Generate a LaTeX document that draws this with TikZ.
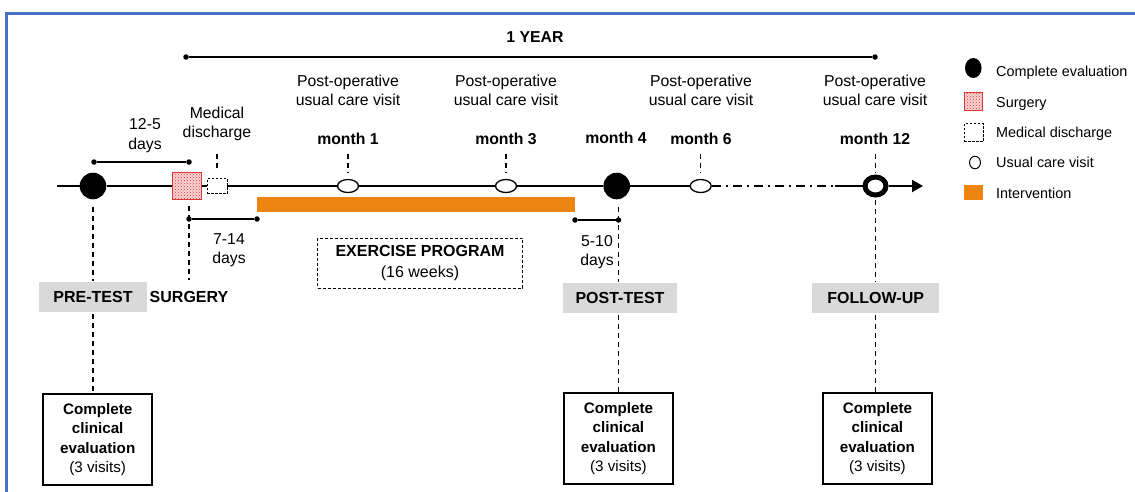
\documentclass[tikz,border=0pt]{standalone}
\usepackage{fontspec}
\setmainfont{Liberation Sans}
\usetikzlibrary{arrows.meta,shapes.geometric,patterns}
\definecolor{frameblue}{RGB}{68,114,196}
\definecolor{surgred}{RGB}{220,55,55}
\definecolor{surgpink}{RGB}{248,212,212}
\definecolor{orangebar}{RGB}{235,132,16}
\definecolor{gboxc}{RGB}{217,217,217}
\begin{document}
\begin{tikzpicture}[x=1pt,y=-1pt,
  lab/.style={font=\fontsize{15.8}{19.5}\selectfont, align=center, inner sep=0pt},
  blab/.style={font=\fontsize{15.8}{19.5}\selectfont\bfseries, align=center, inner sep=0pt},
  leg/.style={font=\fontsize{14.4}{17}\selectfont, inner sep=0pt, anchor=base west},
  tl/.style={line width=2pt},
  br/.style={line width=1.3pt},
  dotn/.style={circle, fill=black, minimum size=5.5pt, inner sep=0pt},
  vtick/.style={line width=1.3pt, dash pattern=on 5pt off 4pt},
  dropline/.style={line width=1.3pt, dash pattern=on 5pt off 4pt},
  evalc/.style={circle, fill=black, minimum size=26.6pt, inner sep=0pt},
  visit/.style={ellipse, draw, fill=white, line width=1.3pt, minimum width=21pt, minimum height=13pt, inner sep=0pt},
  finalc/.style={ellipse, draw, fill=white, line width=5pt, minimum width=21pt, minimum height=18pt, inner sep=0pt},
  surgsq/.style={rectangle, draw=surgred, line width=1.2pt, fill=surgpink, postaction={pattern=crosshatch dots, pattern color=surgred}, inner sep=0pt},
  dischsq/.style={rectangle, draw, fill=white, line width=0.9pt, dash pattern=on 2.5pt off 1.5pt, inner sep=0pt},
  ibar/.style={rectangle, fill=orangebar, inner sep=0pt},
  gbox/.style={rectangle, fill=gboxc, minimum height=30.5pt, inner sep=0pt, font=\fontsize{16}{19}\selectfont\bfseries},
  cbox/.style={rectangle, draw, line width=2pt, minimum width=109pt, minimum height=91pt, inner sep=0pt, align=center, font=\fontsize{15.2}{19.4}\selectfont\bfseries},
  exbox/.style={rectangle, draw, line width=0.9pt, dash pattern=on 3pt off 2pt, minimum width=205pt, minimum height=50pt, inner sep=0pt, align=center, font=\fontsize{16}{21}\selectfont\bfseries}
]
\useasboundingbox (0,0) rectangle (1135,491);
% frame
\draw[frameblue, line width=3pt] (6,500) -- (6,13) -- (1140,13);

% markers on the timeline
\node[evalc] (pre) at (93,186) {};
\node[surgsq, minimum width=29pt, minimum height=27pt] (surg) at (186.7,186) {};
\node[dischsq, minimum width=20pt, minimum height=15pt] (dis) at (217,186) {};
\node[visit] (m1) at (348,186) {};
\node[visit] (m3) at (506,186) {};
\node[evalc] (m4) at (616.7,186) {};
\node[visit] (m6) at (700.7,186) {};
\node[finalc] (m12) at (875.5,186) {};
\coordinate (tstart) at (57,186);
\coordinate (ddend) at (835,186);
\coordinate (tend) at (923,186);

% timeline
\draw[tl] (tstart) -- (pre);
\draw[tl] (pre) -- (surg);
\draw[tl] (surg) -- (dis);
\draw[tl] (dis) -- (m1);
\draw[tl] (m1) -- (m3);
\draw[tl] (m3) -- (m4);
\draw[tl] (m4) -- (m6);
\draw[tl, dash pattern=on 9pt off 5pt on 2pt off 5pt] (m6) -- (ddend);
\draw[tl] (ddend) -- (m12);
\draw[tl, -{Triangle[length=11pt,width=12pt]}] (m12) -- (tend);

% intervention bar
\node[ibar, minimum width=318.3pt, minimum height=14.7pt] (bar) at (415.9,204.3) {};

% brackets
\node[dotn] (y1) at (186,57) {};
\node[dotn] (y2) at (875,57) {};
\draw[br] (y1) -- (y2);
\node[dotn] (a1) at (94,162) {};
\node[dotn] (a2) at (189,162) {};
\draw[br] (a1) -- (a2);
\node[dotn] (b1) at (189,219) {};
\node[dotn] (b2) at (257,219) {};
\draw[br] (b1) -- (b2);
\node[dotn] (c1) at (575,220) {};
\node[dotn] (c2) at (618.5,220) {};
\draw[br] (c1) -- (c2);

% top labels
\node[blab] (yr) at (535,37) {1 YEAR};
\node[lab] (po1) at (348,90.5) {Post-operative\\usual care visit};
\node[lab] (po3) at (506,90.5) {Post-operative\\usual care visit};
\node[lab] (po6) at (701,90.5) {Post-operative\\usual care visit};
\node[lab] (po12) at (875,90.5) {Post-operative\\usual care visit};
\node[blab] (ml1) at (348,139) {month 1};
\node[blab] (ml3) at (506,139) {month 3};
\node[blab] (ml4) at (616,137.5) {month 4};
\node[blab] (ml6) at (701,139) {month 6};
\node[blab] (ml12) at (875,139) {month 12};
\node[lab] (d125) at (145,135.5) {12-5\\days};
\node[lab] (md) at (217,124) {Medical\\discharge};
\node[lab] (d714) at (229,250) {7-14\\days};
\node[lab] (d510) at (597,252) {5-10\\days};

% ticks
\draw[vtick, shorten <=8.5pt, shorten >=6.5pt] (ml1) -- (m1);
\draw[vtick, shorten <=8.5pt, shorten >=6.5pt] (ml3) -- (m3);
\draw[vtick, shorten <=8.5pt, shorten >=6.5pt] (ml6.south -| m6) -- (m6);
\draw[vtick, shorten <=8.5pt, shorten >=2pt] (ml12.south -| m12) -- (m12);
\draw[vtick, shorten <=13pt, shorten >=7pt] (md) -- (dis);

% phase boxes
\node[gbox, minimum width=108pt] (pretest) at (93,297) {PRE-TEST};
\node[blab, font=\fontsize{16}{19}\selectfont\bfseries] (surgt) at (189,297) {SURGERY};
\node[gbox, minimum width=114.6pt] (posttest) at (620,298) {POST-TEST};
\node[gbox, minimum width=127pt] (fu) at (875.7,298) {FOLLOW-UP};
\node[exbox] (ex) at (420,263) {EXERCISE PROGRAM\\{\mdseries (16 weeks)}};

% clinical boxes
\node[cbox] (cl1) at (97.7,439.5) {Complete\\clinical\\evaluation\\{\mdseries (3 visits)}};
\node[cbox] (cl2) at (618.4,438.5) {Complete\\clinical\\evaluation\\{\mdseries (3 visits)}};
\node[cbox] (cl3) at (877.4,438.5) {Complete\\clinical\\evaluation\\{\mdseries (3 visits)}};

% drops
\draw[dropline, shorten <=7pt, shorten >=1pt] (pre) -- (pre |- pretest.north);
\draw[dropline, shorten <=2pt] (pre |- pretest.south) -- (pre |- cl1.north);
\draw[dropline, shorten <=6pt, shorten >=11pt] (surgt.north |- surg.south) -- (surgt.north);
\draw[dropline, shorten <=7.5pt, shorten >=1pt] (c2 |- m4.south) -- (c2 |- posttest.north);
\draw[dropline, shorten <=2pt] (c2 |- posttest.south) -- (c2 |- cl2.north);
\draw[dropline, shorten <=2pt, shorten >=1pt] (m12) -- (m12 |- fu.north);
\draw[dropline, shorten <=2pt] (m12 |- fu.south) -- (m12 |- cl3.north);

% legend
\node[ellipse, fill=black, minimum width=16.6pt, minimum height=20pt, inner sep=0pt] (lg1) at (973.3,68) {};
\node[surgsq, line width=1pt, minimum width=18pt, minimum height=18pt] (lg2) at (973.5,101) {};
\node[dischsq, minimum width=19pt, minimum height=18pt] (lg3) at (973.5,132.5) {};
\node[ellipse, draw, line width=1pt, minimum width=11pt, minimum height=12.5pt, inner sep=0pt] (lg4) at (975,162.5) {};
\node[ibar, minimum width=19pt, minimum height=15pt] (lg5) at (973.3,192.5) {};
\node[leg] (lt1) at (996,76.5) {Complete evaluation};
\node[leg] (lt2) at (996,107) {Surgery};
\node[leg] (lt3) at (996,137.3) {Medical discharge};
\node[leg] (lt4) at (996,167.6) {Usual care visit};
\node[leg] (lt5) at (996,198) {Intervention};
\end{tikzpicture}
\end{document}
